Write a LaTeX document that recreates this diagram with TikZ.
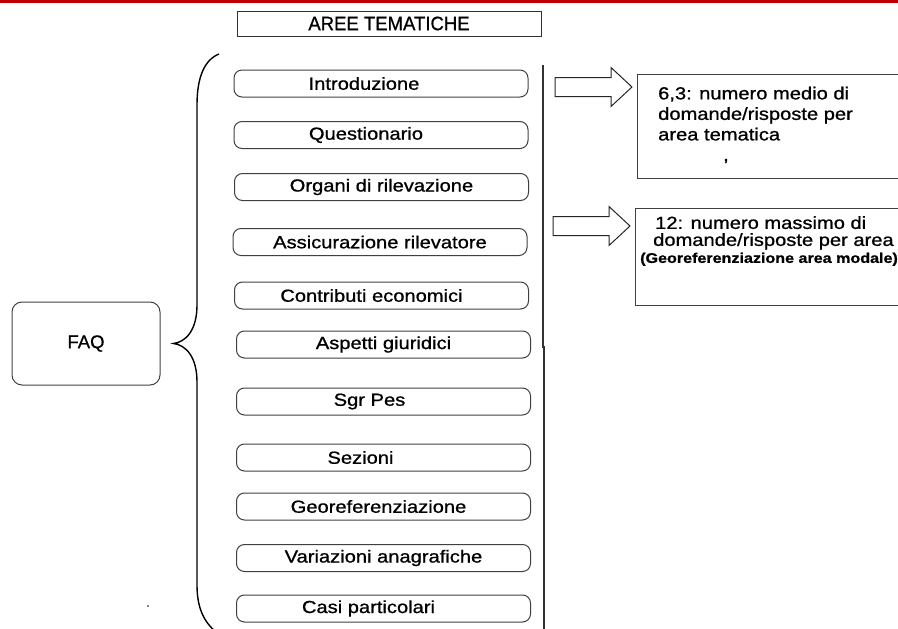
\documentclass[tikz,border=0pt]{standalone}
\usepackage{fontspec}
\setmainfont{Liberation Sans}[FakeBold=0.7]
\newfontfamily\wideface[FakeStretch=1.15,FakeBold=0.9]{Liberation Sans}
\newfontfamily\narrowface[FakeStretch=0.95,FakeBold=0.8]{Liberation Sans}
\usetikzlibrary{positioning,calc}
\definecolor{slidered}{RGB}{192,0,0}
\tikzset{
  area/.style={draw=black!75, line width=1pt, rounded corners=8pt,
    minimum width=294pt, minimum height=27pt, inner sep=0pt,
    font=\wideface\fontsize{17.5}{21}\selectfont},
  stat/.style={draw=black!75, line width=1pt, minimum width=300pt, inner sep=0pt},
  stattext/.style={align=left, inner sep=0pt,
    font=\wideface\fontsize{17.5}{20.5}\selectfont},
  fat/.style={draw=black!85, line width=1pt, fill=white, line join=miter}
}
\newcommand\fatarrow[1]{%
  \draw[fat] (#1) -- ++(-21,-19.5) -- ++(0,10) -- ++(-56,0) -- ++(0,19)
    -- ++(56,0) -- ++(0,10) -- cycle;}

\begin{document}
\begin{tikzpicture}[x=1pt, y=-1pt]
  \clip (0,0) rectangle (898,629);
  \fill[slidered] (0,0) rectangle (898,3);

  \node [draw=black!80, line width=1pt, minimum width=304pt, minimum height=25pt,
    inner sep=0pt, font=\narrowface\fontsize{19.5}{21}\selectfont] (aree) at (389,23.5) {AREE TEMATICHE};

  % aree tematiche
  \node [area] (intro) at (381,83.5) {\hspace*{-34pt}Introduzione};
  \node [area] (quest) at (381,135) {\hspace*{-30pt}Questionario};
  \node [area] (organi) at (381.5,187) {Organi di rilevazione};
  \node [area] (assic) at (380,242) {Assicurazione rilevatore};
  \node [area] (contrib) at (381.5,295.5) {\hspace*{-20pt}Contributi economici};
  \node [area] (giurid) at (383.5,344.5) {Aspetti giuridici};
  \node [area] (sgr) at (383.5,401.5) {\hspace*{-28pt}Sgr Pes};
  \node [area] (sez) at (383.5,457.5) {\hspace*{-46pt}Sezioni};
  \node [area] (georef) at (383.5,506.5) {\hspace*{-10pt}Georeferenziazione};
  \node [area] (variaz) at (383.5,558) {Variazioni anagrafiche};
  \node [area] (casi) at (383.5,608.5) {\hspace*{-30pt}Casi particolari};

  \node [draw=black!75, line width=1pt, rounded corners=10pt, minimum width=148pt,
    minimum height=83pt, font=\fontsize{18.5}{21}\selectfont] (faq) at (86,343.5) {FAQ};

  \coordinate (tip) at ($(faq.east)+(13,0)$);
  \draw[line width=1.4pt] (219,54) .. controls (204,60) and (197,78) .. (197,105)
    -- (197,305) .. controls (197,330) and (186,342) .. (tip)
    .. controls (186,345) and (197,357) .. (197,382)
    -- (197,585) .. controls (197,608) and (204,622) .. (216,632);

  \coordinate (top) at (543,65);
  \coordinate (mid) at (543,348);
  \draw[black!80, line width=1.3pt] (top) -- (mid);
  \draw[black!80, line width=1.3pt] ($(mid)+(1,-2)$) -- (544,629);

  % riquadri a destra
  \node [stat, minimum height=104pt, anchor=north west] (media) at (637,74) {};
  \node [stattext, anchor=north west] (mediatxt) at ($(media.north west)+(21,12.5)$)
    {6,3: numero medio di\\domande/risposte per\\area tematica\\\hspace*{65pt},};
  \node [stat, minimum height=97pt, anchor=north west] (massimo) at (635,208) {};
  \node [stattext, anchor=north west, font=\wideface\fontsize{17.5}{17}\selectfont]
    (massimotxt) at ($(massimo.north west)+(5,8)$)
    {\hspace*{15pt}12: numero massimo di\\\hspace*{13pt}domande/risposte per area\\
     {\bfseries\fontsize{14}{14}\selectfont (Georeferenziazione area modale)}};

  \coordinate (tip1) at ($(media.north west)+(-5,13)$);
  \coordinate (tip2) at ($(massimo.north west)+(-5,18)$);
  \fatarrow{tip1}
  \fatarrow{tip2}

  \fill (148,606) circle (0.9);
\end{tikzpicture}
\end{document}
